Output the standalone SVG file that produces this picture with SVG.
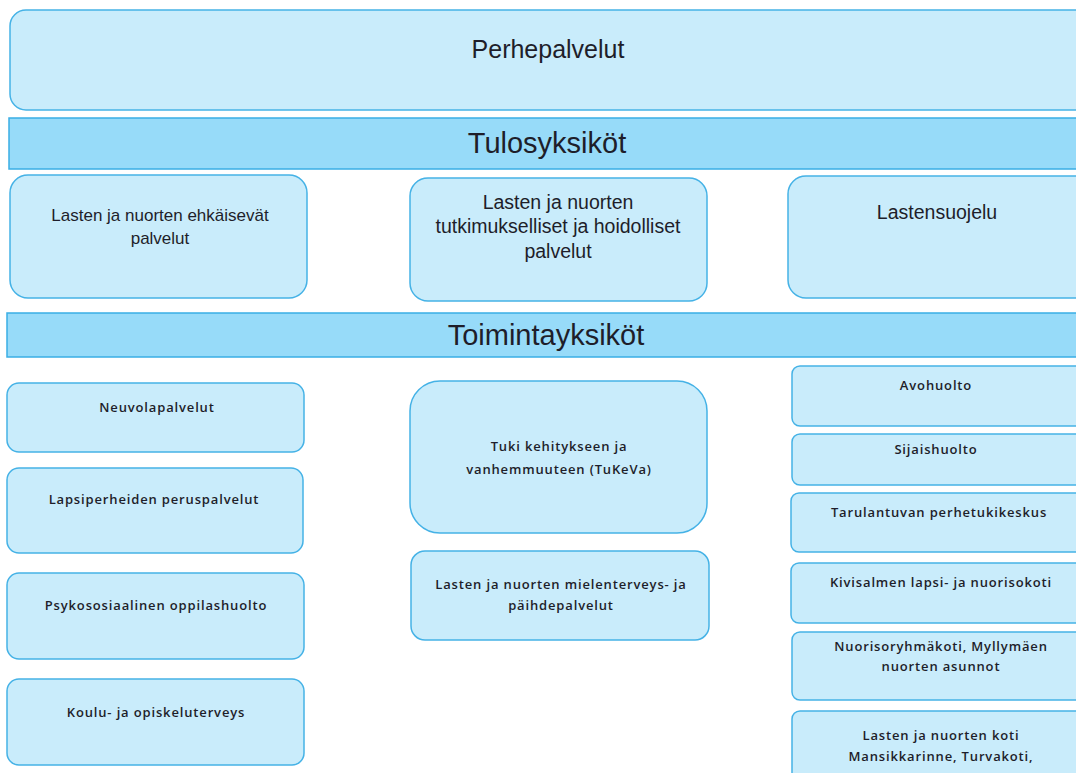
<svg xmlns="http://www.w3.org/2000/svg" width="1076" height="773" viewBox="0 0 1076 773">
<style>
.box{fill:#C9ECFB;stroke:#45B2E6;stroke-width:1.5}
.bar{fill:#97DBF9;stroke:#3AAEE5;stroke-width:1.5}
text{font-family:"Liberation Sans",Arial,sans-serif;fill:#1E1E2A;text-anchor:middle}
.big{font-size:25px}
.hdr{font-size:29px}
.mid{font-size:17px}
.mid2{font-size:19.5px}
.sm{font-family:"Open Sans","Liberation Sans",sans-serif;font-weight:600;font-size:13px;letter-spacing:0.85px}
</style>
<rect width="1076" height="773" fill="#FFFFFF"/>
<g id="perhepalvelut"><rect class="box" x="10" y="10" width="1090" height="100" rx="16"/><text class="big" x="548" y="58">Perhepalvelut</text></g>
<g id="tulosyksikot"><rect class="bar" x="9" y="118" width="1090" height="51"/><text class="hdr" x="547" y="153">Tulosyksiköt</text></g>
<g id="ehkaisevat"><rect class="box" x="10" y="175" width="297" height="123" rx="18"/><text class="mid" x="160" y="221">Lasten ja nuorten ehkäisevät</text><text class="mid" x="160" y="244">palvelut</text></g>
<g id="tutkimukselliset"><rect class="box" x="410" y="178" width="297" height="123" rx="18"/><text class="mid2" x="558" y="209">Lasten ja nuorten</text><text class="mid2" x="558" y="233">tutkimukselliset ja hoidolliset</text><text class="mid2" x="558" y="258">palvelut</text></g>
<g id="lastensuojelu"><rect class="box" x="788" y="176" width="310" height="122" rx="18"/><text class="mid2" x="937" y="219">Lastensuojelu</text></g>
<g id="toimintayksikot"><rect class="bar" x="7" y="313" width="1090" height="44"/><text class="hdr" x="546" y="345">Toimintayksiköt</text></g>
<g id="neuvola"><rect class="box" x="7" y="383" width="297" height="69" rx="12"/><text class="sm" x="157" y="412">Neuvolapalvelut</text></g>
<g id="lapsiperheiden"><rect class="box" x="7" y="468" width="296" height="85" rx="12"/><text class="sm" x="154" y="504">Lapsiperheiden peruspalvelut</text></g>
<g id="psykososiaalinen"><rect class="box" x="7" y="573" width="297" height="86" rx="12"/><text class="sm" x="156" y="610">Psykososiaalinen oppilashuolto</text></g>
<g id="koulu"><rect class="box" x="7" y="679" width="297" height="86" rx="12"/><text class="sm" x="156" y="717">Koulu- ja opiskeluterveys</text></g>
<g id="tukeva"><rect class="box" x="410" y="381" width="297" height="152" rx="30"/><text class="sm" x="559" y="451">Tuki kehitykseen ja</text><text class="sm" x="559" y="474">vanhemmuuteen  (TuKeVa)</text></g>
<g id="mielenterveys"><rect class="box" x="411" y="551" width="298" height="89" rx="14"/><text class="sm" x="561" y="589">Lasten ja nuorten mielenterveys- ja</text><text class="sm" x="561" y="610">päihdepalvelut</text></g>
<g id="avohuolto"><rect class="box" x="792" y="366" width="300" height="60" rx="8"/><text class="sm" x="936" y="390">Avohuolto</text></g>
<g id="sijaishuolto"><rect class="box" x="792" y="434" width="300" height="51" rx="8"/><text class="sm" x="936" y="454">Sijaishuolto</text></g>
<g id="tarulantuvan"><rect class="box" x="791" y="493" width="300" height="59" rx="8"/><text class="sm" x="939" y="517">Tarulantuvan perhetukikeskus</text></g>
<g id="kivisalmen"><rect class="box" x="791" y="563" width="300" height="60" rx="8"/><text class="sm" x="941" y="587">Kivisalmen lapsi- ja nuorisokoti</text></g>
<g id="nuorisoryhmakoti"><rect class="box" x="792" y="632" width="300" height="68" rx="8"/><text class="sm" x="941" y="651">Nuorisoryhmäkoti, Myllymäen</text><text class="sm" x="941" y="671">nuorten asunnot</text></g>
<g id="lastenkoti"><rect class="box" x="792" y="711" width="300" height="90" rx="8"/><text class="sm" x="941" y="740">Lasten ja nuorten koti</text><text class="sm" x="941" y="761">Mansikkarinne, Turvakoti,</text></g>
<g id="connectors"></g>
</svg>
